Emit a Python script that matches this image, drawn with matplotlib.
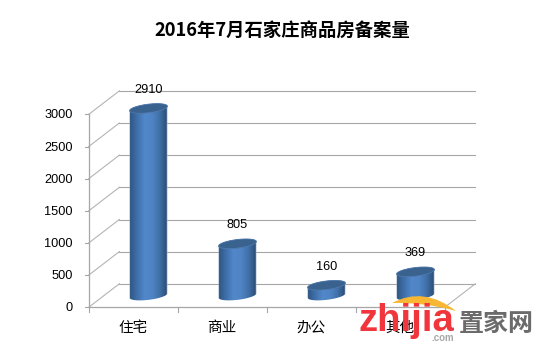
import matplotlib
matplotlib.use("Agg")
import matplotlib.pyplot as plt
import numpy as np
from matplotlib.path import Path
from matplotlib.patches import PathPatch, Polygon
from matplotlib.colors import LinearSegmentedColormap

plt.rcParams['font.family'] = ['Noto Sans CJK SC', 'DejaVu Sans']

# data
categories = ["住宅", "商业", "办公", "其他"]
values = [2910, 805, 160, 369]
y_ticks = [0, 500, 1000, 1500, 2000, 2500, 3000]
title = "2016年7月石家庄商品房备案量"

# pixels of the picture
W, H = 539, 352
x0_px, cat_px = 88.7, 89.0
y0_px, val_px = 307.3, 32.15 / 500
dx, dy = 30.6 / cat_px, 23.5 / val_px  # depth of the 3d box, in data units


fig = plt.figure(figsize=(W / 100, H / 100), dpi=100)
ax = fig.add_axes([0, 0, 1, 1])
ax.set_xlim(-x0_px / cat_px, (W - x0_px) / cat_px)
ax.set_ylim(-(H - y0_px) / val_px, y0_px / val_px)
ax.axis("off")

n = len(categories)
top = y_ticks[-1]
grid = "#a6a6a6"

# back wall lines and the slanted side wall
for v in y_ticks:
    ax.plot([0, dx], [v, v + dy], color="#b4b4b4", lw=0.8, zorder=1)
    if v > 0:
        ax.plot([dx, n + dx], [v + dy, v + dy], color=grid, lw=0.8, zorder=1)
    ax.plot([-4 / cat_px, 0], [v, v], color=grid, lw=0.8, zorder=1)
    ax.text(-16 / cat_px, v - 1 / val_px, str(v), ha="right", va="center", fontsize=9.2,
            family="Liberation Sans", color="black")
ax.plot([dx, n + dx], [dy, dy], color=grid, lw=0.8, zorder=1)
ax.plot([n, n + dx], [0, dy], color="#b4b4b4", lw=0.8, zorder=1)

# front axis
ax.plot([0, 0], [0, top], color=grid, lw=0.9, zorder=2)
ax.plot([0, n], [0, 0], color=grid, lw=0.9, zorder=2)
for i in range(n + 1):
    ax.plot([i, i], [0, -5 / val_px], color=grid, lw=0.8, zorder=2)
for i, c in enumerate(categories):
    ax.text(i + 0.5, -20.5 / val_px, c, ha="center", va="center", fontsize=10.5, color="black")

# cylinders
body_cmap = LinearSegmentedColormap.from_list("body", [
    (0.0, "#c5d3e6"), (0.025, "#2f5783"), (0.15, "#3a689f"), (0.4, "#5188ca"),
    (0.6, "#4f84c4"), (0.8, "#3f6fa6"), (0.96, "#2d4f79"), (1.0, "#c5d3e6")])
grad = np.linspace(0, 1, 128).reshape(1, -1)
a = 0.2125  # half width
b = 4.3 / val_px  # half height of the ellipse
shear = 2.2 / val_px  # tilt, right side goes up

for i, v in enumerate(values):
    cx = i + 0.5 + dx / 2
    base = dy / 2
    t = np.linspace(0, 2 * np.pi, 80)
    t_low = np.linspace(np.pi, 2 * np.pi, 40)
    t_up = np.linspace(0, np.pi, 40)
    # body outline
    xs = np.r_[cx + a * np.cos(t_low), cx + a * np.cos(t_up)]
    ys = np.r_[base + b * np.sin(t_low) + shear * np.cos(t_low),
               base + v + b * np.sin(t_up) + shear * np.cos(t_up)]
    body = Polygon(np.c_[xs, ys], closed=True, transform=ax.transData, fc="none", ec="none")
    ax.add_patch(body)
    im = ax.imshow(grad, cmap=body_cmap, aspect="auto", zorder=3, interpolation="bilinear",
                   extent=[cx - a - 0.005, cx + a + 0.005, base - 2 * (b + shear), base + v + 2 * (b + shear)])
    im.set_clip_path(body)
    # top ellipse
    ax.fill(cx + a * np.cos(t), base + v + b * np.sin(t) + shear * np.cos(t),
            color="#39628f", lw=0.6, ec="#4f79ab", zorder=4)
    ax.text(cx, base + v + 12.5 / val_px, f"{v}", ha="center", va="bottom", fontsize=9.2,
            family="Liberation Sans", color="black", zorder=5)

# keep limits after imshow
ax.set_xlim(-x0_px / cat_px, (W - x0_px) / cat_px)
ax.set_ylim(-(H - y0_px) / val_px, y0_px / val_px)

fig.text(282.5 / W, 1 - 31 / H, title, ha="center", va="center", fontsize=13.2,
         fontweight="bold", color="black")

# watermark
wm = fig.add_axes([0, 0, 1, 1], facecolor="none")
wm.set_xlim(0, W)
wm.set_ylim(H, 0)
wm.axis("off")
arc = Path([(392, 303), (424, 286), (456, 311), (424, 302), (392, 303), (392, 303)],
           [Path.MOVETO, Path.CURVE3, Path.CURVE3, Path.CURVE3, Path.CURVE3, Path.CLOSEPOLY])
wm.add_patch(PathPatch(arc, fc="#f7b733", ec="none"))
wm.text(359, 331, "zhijia", fontsize=27.5, fontweight="bold", family="Liberation Sans",
        color="#f0363c", ha="left", va="baseline")
wm.text(459, 324, "置家网", fontsize=18, fontweight="bold", color="#6b6b6b", ha="left", va="center")
wm.text(431, 338, ".com", fontsize=7, fontweight="bold", family="Liberation Sans",
        color="#a8a8a8", ha="left", va="center")

fig.savefig("out.png", dpi=100)
